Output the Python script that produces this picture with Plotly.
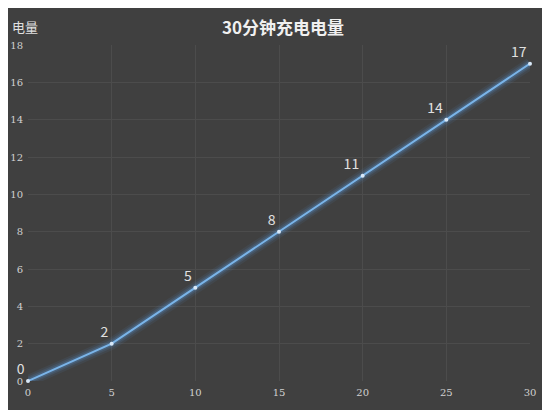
import plotly.graph_objects as go

minutes = [0, 5, 10, 15, 20, 25, 30]
charge = [0, 2, 5, 8, 11, 14, 17]
labels = [str(v) for v in charge]

fig = go.Figure()
for w, op in [(12, 0.08), (8, 0.12), (5, 0.2)]:
    fig.add_trace(go.Scatter(x=minutes, y=charge, mode="lines",
                             line=dict(color="#5aa0e6", width=w), opacity=op,
                             hoverinfo="skip", showlegend=False))
fig.add_trace(go.Scatter(x=minutes, y=charge, mode="lines+markers+text",
                         line=dict(color="#7ab4e8", width=2),
                         marker=dict(color="#d8e8f8", size=4),
                         text=labels, textposition="top left",
                         textfont=dict(color="#e0e0e0", size=14, family="Noto Sans CJK SC"),
                         cliponaxis=False, showlegend=False))
fig.update_layout(
    width=550, height=410,
    paper_bgcolor="#404040", plot_bgcolor="#404040",
    margin=dict(l=20, r=28, t=37, b=37, autoexpand=False),
    title=dict(text="<b>30分钟充电电量</b>", x=0.5, y=0.965, xanchor="center",
               font=dict(color="#f0f0f0", size=17, family="Noto Sans CJK SC")),
    font=dict(family="Noto Sans CJK SC", color="#d0d0d0", size=11),
)
fig.layout.annotations = [dict(text="电量", x=-0.035, y=1.09, xref="paper", yref="paper",
                               xanchor="left", showarrow=False,
                               font=dict(size=13, color="#e0e0e0"))]
fig.update_xaxes(range=[0, 30], dtick=5, showgrid=True, gridcolor="#4c4c4c",
                 zeroline=False, showline=False, ticklabelstandoff=4,
                 tickfont=dict(color="#d0d0d0", size=10, family="DejaVu Serif"))
fig.update_yaxes(range=[0, 18], dtick=2, showgrid=True, gridcolor="#4c4c4c",
                 zeroline=False, showline=False, ticklabelstandoff=4,
                 tickfont=dict(color="#d0d0d0", size=10, family="DejaVu Serif"))
fig.write_html("out.html")
